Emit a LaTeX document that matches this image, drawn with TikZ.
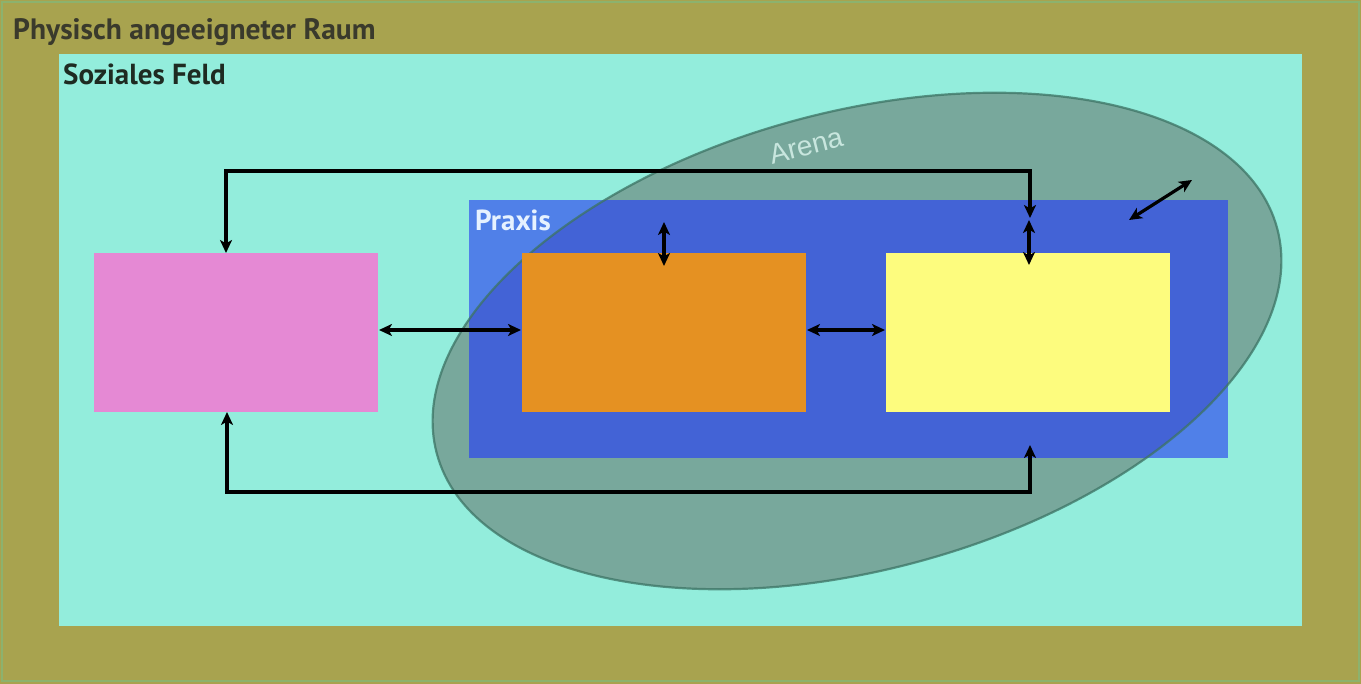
\documentclass[tikz,border=0pt]{standalone}
\usepackage{fontspec}
\setmainfont{PT Sans}
\newfontfamily\arenafont{Liberation Sans}
\usetikzlibrary{arrows.meta,calc}
\definecolor{olivebg}{RGB}{168,163,79}
\definecolor{framegreen}{RGB}{140,178,110}
\definecolor{aquabg}{RGB}{147,237,220}
\definecolor{praxislight}{RGB}{80,128,232}
\definecolor{praxisdark}{RGB}{67,99,214}
\definecolor{arenafill}{RGB}{120,168,156}
\definecolor{arenastroke}{RGB}{60,115,100}
\definecolor{pinkbox}{RGB}{229,137,212}
\definecolor{orangebox}{RGB}{229,145,34}
\definecolor{yellowbox}{RGB}{253,252,126}
\definecolor{titlegray}{RGB}{58,58,44}
\definecolor{feldtext}{RGB}{30,43,34}
\definecolor{praxistext}{RGB}{230,242,255}
\definecolor{arenatext}{RGB}{200,230,222}
\begin{document}
\begin{tikzpicture}[x=1pt,y=-1pt,
  box/.style={draw=none, minimum width=284pt, minimum height=159pt, inner sep=0pt, outer sep=0pt},
  conn/.style={line width=3.2pt, {Stealth[length=13pt,width=12pt,inset=3.5pt]}-{Stealth[length=13pt,width=12pt,inset=3.5pt]}},
  label/.style={font=\bfseries\fontsize{29}{33}\selectfont, anchor=base west, inner sep=0pt}]
\useasboundingbox (0,0) rectangle (1361,684);
% physical space
\fill[olivebg] (0,0) rectangle (1361,684);
\draw[framegreen, line width=2.5pt] (2,2) rectangle (1359,681);
% social field
\fill[aquabg] (59,54) rectangle (1302,626);
% praxis
\fill[praxislight] (469,200) rectangle (1228,458);
% arena
\fill[arenafill, rotate around={15:(857,341)}] (857,341) ellipse (435 and 229);
\begin{scope}
  \clip[rotate around={15:(857,341)}] (857,341) ellipse (435 and 229);
  \fill[praxisdark] (469,200) rectangle (1228,458);
\end{scope}
\draw[arenastroke, line width=2.2pt, draw opacity=0.75, rotate around={15:(857,341)}] (857,341) ellipse (435 and 229);
% boxes
\node[box, fill=pinkbox] (pink) at (236,332.5) {};
\node[box, fill=orangebox] (orange) at (664,332.5) {};
\node[box, fill=yellowbox] (yellow) at (1028,332.5) {};
% labels
\node[label, font=\bfseries\fontsize{29.5}{33}\selectfont, text=titlegray] (raum) at (13,40) {Physisch angeeigneter Raum};
\node[label, text=feldtext] (feld) at (63,85) {Soziales Feld};
\node[label, text=praxistext] (praxis) at (475,231) {Praxis};
\node[font=\arenafont\fontsize{28}{30}\selectfont, text=arenatext, rotate=14, inner sep=0pt] (arena) at (806,146) {Arena};
% connector end points
\coordinate (pinkTop) at (226,253);
\coordinate (pinkBot) at (227,412);
\coordinate (yelTopIn) at (1030,218);
\coordinate (yelUp) at (1029,220);
\coordinate (yelDown) at (1029,265);
\coordinate (orUp) at (664,222);
\coordinate (orDown) at (664,266);
\coordinate (praxBot) at (1030,445);
\coordinate (diagA) at (1129,220);
\coordinate (diagB) at (1192,180);
\coordinate (pinkE) at (379,330);
\coordinate (orW) at (521,330);
\coordinate (orE) at (807,330);
\coordinate (yelW) at (885,330);
% connectors
\draw[conn] (pinkTop) -- ++(0,-82) -| (yelTopIn);
\draw[conn] (pinkBot) -- ++(0,80) -| (praxBot);
\draw[conn] (yelUp) -- (yelDown);
\draw[conn] (orUp) -- (orDown);
\draw[conn] (diagA) -- (diagB);
\draw[conn] (pinkE) -- (orW);
\draw[conn] (orE) -- (yelW);
\end{tikzpicture}
\end{document}
